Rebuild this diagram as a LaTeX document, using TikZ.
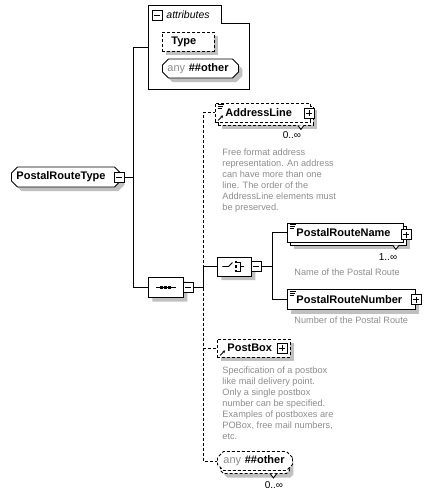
\documentclass[tikz,border=0pt]{standalone}
\usepackage{fontspec}
\setmainfont{Liberation Sans}
\usetikzlibrary{shapes.misc,shadows,arrows.meta}
\definecolor{shadowgray}{RGB}{192,192,192}
\definecolor{descgray}{RGB}{140,140,140}
\tikzset{
  elem/.style={draw, fill=white, anchor=west, inner xsep=9pt, inner ysep=0pt, minimum height=19pt, align=left, font=\bfseries\fontsize{11}{13}\selectfont},
  cham/.style={elem, chamfered rectangle, chamfered rectangle xsep=3pt, chamfered rectangle ysep=3pt},
  shade/.style={drop shadow={shadow xshift=4pt, shadow yshift=-4pt, fill=shadowgray, opacity=1}},
  opt/.style={dash pattern=on 3pt off 2pt},
  desc/.style={anchor=north west, inner sep=0pt, align=left, text=descgray, font=\fontsize{9.2}{11}\selectfont},
  occ/.style={inner sep=0pt, font=\fontsize{10}{12}\selectfont},
  minusbox/.style={draw, fill=white, minimum size=10pt, inner sep=0pt, path picture={\draw ([xshift=2pt]path picture bounding box.west) -- ([xshift=-2pt]path picture bounding box.east);}},
  plusbox/.style={minusbox, path picture={\draw ([xshift=2pt]path picture bounding box.west) -- ([xshift=-2pt]path picture bounding box.east); \draw ([yshift=-2pt]path picture bounding box.north) -- ([yshift=2pt]path picture bounding box.south);}}
}
\begin{document}
\begin{tikzpicture}[x=1pt, y=-1pt, line width=0.9pt]
  \useasboundingbox (0,0) rectangle (432,498);

  % 根元素
  \node[cham, shade, inner xsep=2pt, text width=99pt, minimum height=20pt] (routetype) at (11,177) {PostalRouteType};
  \node[minusbox] (rtminus) at (119,177) {};

  % 属性框
  \node[inner sep=0pt, minimum width=101pt, minimum height=84pt, anchor=north west] (attrs) at (148,5) {};
  \draw (attrs.north west) -- ([xshift=73pt]attrs.north west) |- ([yshift=-18pt]attrs.north east) -- (attrs.south east) -- (attrs.south west) -- cycle;
  \node[minusbox] (attrminus) at (157,15) {};
  \node[anchor=west, inner sep=0pt, font=\itshape\fontsize{10.5}{12}\selectfont] (attrlabel) at (166,15) {attributes};
  \node[elem, opt, shade, text width=34pt] (typeattr) at (162,41.5) {Type};
  \node[cham, shade, inner xsep=2pt, text width=66pt] (anyattr) at (162,68.5) {{\mdseries\color{descgray}any}\ \#\#other};

  % 序列与选择
  \node[cham, shade, inner sep=0pt, minimum width=35pt, minimum height=20pt] (seq) at (148,287.5) {};
  \draw ([xshift=-10pt]seq.center) -- ([xshift=10pt]seq.center);
  \foreach \dx in {-4,0,4}
    \fill ([xshift=\dx pt]seq.center) +(-1.5,-1.5) rectangle +(1.5,1.5);
  \node[minusbox] (seqminus) at (188,287.5) {};

  \node[cham, shade, inner sep=0pt, minimum width=34pt, minimum height=19pt] (choice) at (217,266.5) {};
  \draw ([xshift=-12pt]choice.center) -- ++(6,0) -- ++(4,-4);
  \foreach \dy in {-4.5,0,4.5}
    \fill ([xshift=1.5pt]choice.center) +(-1.2,\dy-1.2) rectangle +(1.2,\dy+1.2);
  \draw ([shift={(3,-4.5)}]choice.center) -- ++(3,0) -- ++(0,9) -- ++(-3,0);
  \draw ([shift={(6,0)}]choice.center) -- ++(4,0);
  \node[minusbox] (choiceminus) at (256,266.5) {};

  % 子元素
  \node[elem, opt, shade, inner xsep=10pt, text width=75pt] (addrlineback) at (218,115.5) {};
  \node[elem, opt, inner xsep=10pt, text width=75pt] (addrline) at (215,112.5) {AddressLine};
  \node[plusbox] (addrplus) at (309,113) {};
  \draw[fill=white] ([xshift=-16pt]addrlineback.south east) -- ++(3,4) -- ++(3,-4);
  \node[occ] (addrocc) at (292,135) {0..∞};
  \node[desc] (addrdesc) at (222,148.5) {Free format address\\representation. An address\\can have more than one\\line. The order of the\\AddressLine elements must\\be preserved.};

  \node[elem, shade, text width=98pt] (rnameback) at (290,235.5) {};
  \node[elem, text width=98pt] (rname) at (287,232.5) {PostalRouteName};
  \node[plusbox] (rnameplus) at (406,234.5) {};
  \draw[fill=white] ([xshift=-14pt]rnameback.south east) -- ++(3,4) -- ++(3,-4);
  \node[occ] (rnameocc) at (388,257) {1..∞};
  \node[desc] (rnamedesc) at (294,268.5) {Name of the Postal Route};

  \node[elem, shade, text width=110pt, minimum height=20pt] (rnumber) at (287,299.5) {PostalRouteNumber};
  \node[plusbox] (rnumberplus) at (416,299.5) {};
  \node[desc] (rnumberdesc) at (294,316.5) {Number of the Postal Route};

  \node[elem, opt, shade, inner xsep=10pt, text width=53pt, minimum height=18pt] (postbox) at (217,348) {PostBox};
  \node[plusbox] (postboxplus) at (282,348) {};
  \node[desc] (postboxdesc) at (222,366.5) {Specification of a postbox\\like mail delivery point.\\Only a single postbox\\number can be specified.\\Examples of postboxes are\\POBox, free mail numbers,\\etc.};

  \node[cham, opt, shade, inner xsep=3pt, text width=63pt] (anyotherback) at (220,464) {};
  \node[cham, opt, inner xsep=3pt, text width=63pt] (anyother) at (217,461) {{\mdseries\color{descgray}any}\ \#\#other};
  \draw[fill=white] ([xshift=15.5pt]anyotherback.south) -- ++(3,4) -- ++(3,-4);
  \node[occ] (anyocc) at (274,485) {0..∞};

  % 小图标
  \foreach \n in {addrline,rname,rnumber}
    \foreach \dy/\len in {2/6,4/5,6/4}
      \draw[line width=0.6pt] ([shift={(2.5,\dy)}]\n.north west) -- ++(\len,0);
  \foreach \n in {addrline,postbox}
    \draw[line width=0.8pt, -{Stealth[length=2.5pt,width=3pt]}] ([shift={(3,-2)}]\n.south west) -- ++(5,-5);

  % 连线
  \coordinate (jroot) at (133,177);
  \coordinate (jseq) at (203,287.5);
  \coordinate (jchoice) at (272,266.5);
  \draw (rtminus.east) -- (jroot) |- (attrs.west);
  \draw (jroot) |- (seq.west);
  \draw[opt] (jseq) |- (addrline.west);
  \draw[opt] (jseq) |- (postbox.west);
  \draw[opt] (jseq) |- (anyother.west);
  \draw (seqminus.east) -- (jseq) |- (choice.west);
  \draw (choiceminus.east) -- (jchoice) |- (rname.west);
  \draw (jchoice) |- (rnumber.west);
\end{tikzpicture}
\end{document}
